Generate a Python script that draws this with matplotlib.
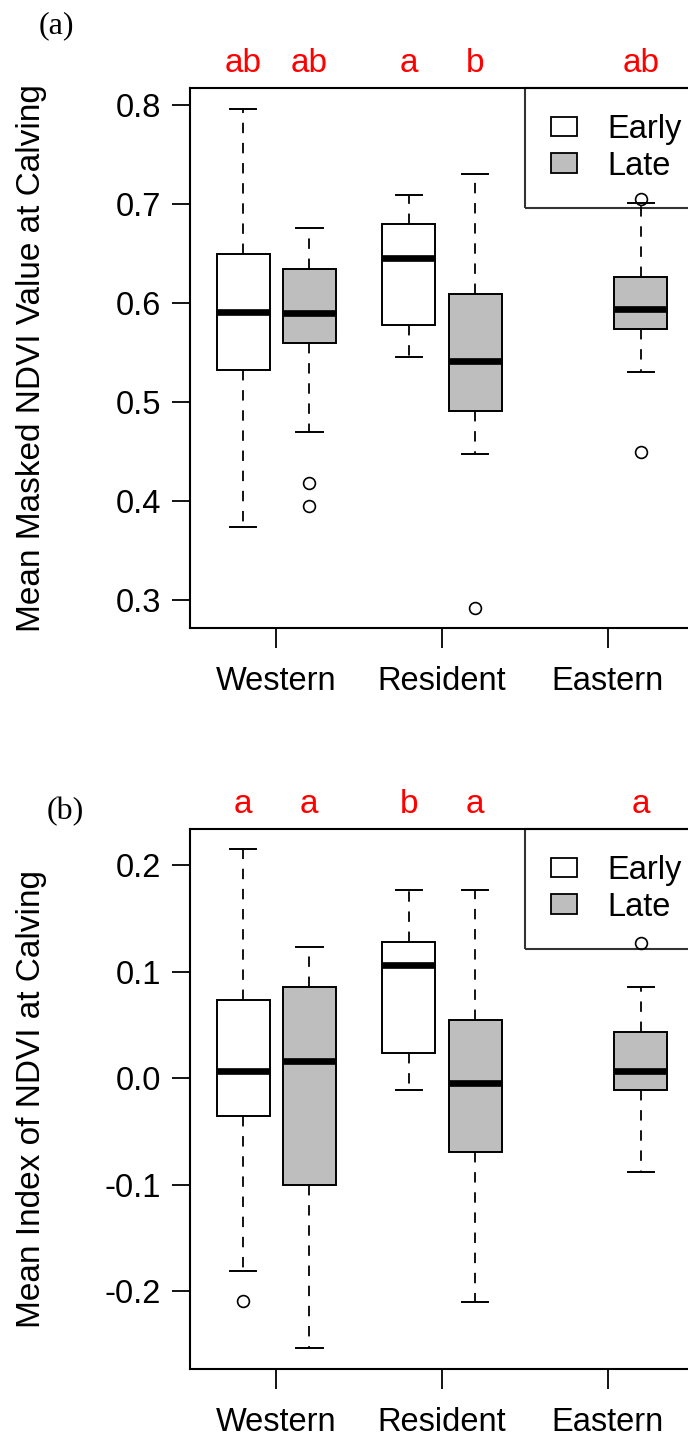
import matplotlib

matplotlib.use("Agg")
import matplotlib.pyplot as plt
import matplotlib.transforms as mtransforms
from matplotlib.patches import Patch

plt.rcParams["font.family"] = ["Liberation Sans", "DejaVu Sans"]
plt.rcParams["axes.unicode_minus"] = False
plt.rcParams["lines.scale_dashes"] = False

# groups and box layout (no Early box for Eastern)
groups = ["Western", "Resident", "Eastern"]
group_pos = [1.5, 4, 6.5]
box_pos = [1, 2, 3.5, 4.5, 7]
box_season = ["Early", "Late", "Early", "Late", "Late"]
season_colors = {"Early": "white", "Late": "#BEBEBE"}

# (a) mean masked NDVI value at calving
whislo_a = [0.374, 0.470, 0.545, 0.447, 0.530]
q1_a = [0.532, 0.559, 0.578, 0.491, 0.574]
med_a = [0.591, 0.590, 0.645, 0.541, 0.594]
q3_a = [0.649, 0.634, 0.680, 0.609, 0.626]
whishi_a = [0.796, 0.675, 0.709, 0.730, 0.701]
fliers_a = [[], [0.418, 0.395], [], [0.292], [0.705, 0.449]]
letters_a = ["ab", "ab", "a", "b", "ab"]

# (b) mean index of NDVI at calving
whislo_b = [-0.181, -0.254, -0.011, -0.210, -0.088]
q1_b = [-0.036, -0.100, 0.024, -0.069, -0.011]
med_b = [0.007, 0.016, 0.106, -0.005, 0.007]
q3_b = [0.073, 0.086, 0.128, 0.055, 0.043]
whishi_b = [0.215, 0.123, 0.177, 0.177, 0.086]
fliers_b = [[-0.209], [], [], [], [0.127]]
letters_b = ["a", "a", "b", "a", "a"]

FS = 23.5


def panel(ax, lo, q1, med, q3, hi, fliers, letters, ylim, yticks, ylabel, tag, tag_xy):
    stats = [dict(whislo=a, q1=b, med=c, q3=d, whishi=e, fliers=f)
             for a, b, c, d, e, f in zip(lo, q1, med, q3, hi, fliers)]
    art = ax.bxp(stats, positions=box_pos, widths=0.8, patch_artist=True,
                 capwidths=0.4, manage_ticks=False,
                 boxprops=dict(linewidth=1.4, edgecolor="black"),
                 whiskerprops=dict(linewidth=1.3, linestyle=(0, (7.5, 7))),
                 capprops=dict(linewidth=1.4),
                 medianprops=dict(linewidth=4.8, color="black", solid_capstyle="butt"),
                 flierprops=dict(marker="o", markersize=8.5, markerfacecolor="none",
                                 markeredgecolor="black", markeredgewidth=1.2))
    for patch, s in zip(art["boxes"], box_season):
        patch.set_facecolor(season_colors[s])

    ax.set_xlim(0.2, 7.8)
    ax.set_ylim(*ylim)
    ax.set_yticks(yticks)
    ax.set_yticklabels([f"{t:.1f}" for t in yticks])
    ax.set_xticks(group_pos)
    ax.set_xticklabels(groups)
    ax.tick_params(axis="y", length=13, width=1.3, pad=8, labelsize=FS)
    ax.tick_params(axis="x", length=14.5, width=1.3, pad=13, labelsize=FS)
    for sp in ax.spines.values():
        sp.set_linewidth(1.5)

    ax.text(-0.3155, 0.5, ylabel, transform=ax.transAxes, rotation=90,
            ha="center", va="center", fontsize=FS + 0.5)

    trans = mtransforms.blended_transform_factory(ax.transData, ax.transAxes)
    for x, lab in zip(box_pos, letters):
        ax.text(x, 1.03, lab, transform=trans, color="red", ha="center",
                va="baseline", fontsize=FS + 0.5, clip_on=False)

    # legend box runs past the right edge of the picture, as in the source
    handles = [Patch(facecolor=season_colors[s], edgecolor="black", linewidth=1.3)
               for s in ["Early", "Late"]]
    leg = ax.legend(handles, ["Early", "Late"], loc="upper right",
                    bbox_to_anchor=(1.028, 1.0), borderaxespad=0,
                    fontsize=FS, handlelength=0.78, handleheight=0.55,
                    handletextpad=0.95, labelspacing=0.17, borderpad=0.8,
                    fancybox=False, facecolor="none", edgecolor="black")
    leg.get_frame().set_linewidth(1.5)
    leg.set_zorder(0.5)

    fig.text(tag_xy[0] / 688, 1 - tag_xy[1] / 1440, tag, family="Liberation Serif",
             fontsize=23, ha="left", va="baseline")


fig = plt.figure(figsize=(6.88, 14.4), dpi=100)
ax_a = fig.add_axes([0.2762, 0.5639, 0.7324, 0.375])
ax_b = fig.add_axes([0.2762, 0.0491, 0.7324, 0.3752])

panel(ax_a, whislo_a, q1_a, med_a, q3_a, whishi_a, fliers_a, letters_a,
      (0.2718, 0.8168), [0.3, 0.4, 0.5, 0.6, 0.7, 0.8],
      "Mean Masked NDVI Value at Calving", "(a)", (39, 33))
panel(ax_b, whislo_b, q1_b, med_b, q3_b, whishi_b, fliers_b, letters_b,
      (-0.2736, 0.2341), [-0.2, -0.1, 0.0, 0.1, 0.2],
      "Mean Index of NDVI at Calving", "(b)", (47, 819))

fig.savefig("out.png", dpi=100)
